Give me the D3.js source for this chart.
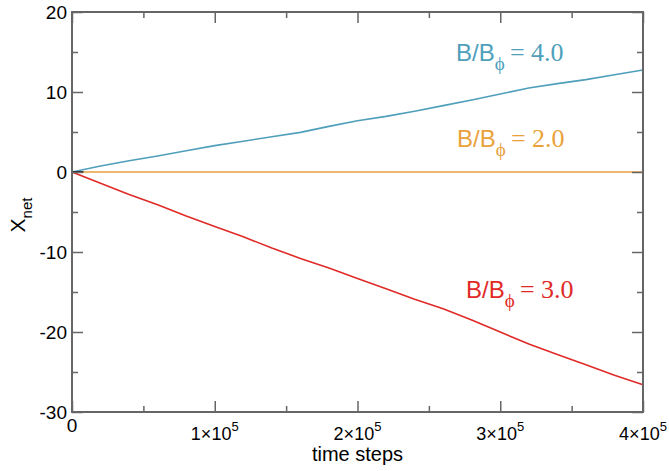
<!DOCTYPE html>
<html>
<head>
<meta charset="utf-8">
<script src="https://cdn.jsdelivr.net/npm/d3@7/dist/d3.min.js"></script>
<style>
  html, body { margin: 0; padding: 0; background: #fff; }
  svg { display: block; }
</style>
</head>
<body>
<script>
// Time axis (time steps), sampled every 2×10^4 steps
const steps = [0, 20000, 40000, 60000, 80000, 100000, 120000, 140000, 160000, 180000, 200000,
               220000, 240000, 260000, 280000, 300000, 320000, 340000, 360000, 380000, 400000];

// Net displacement X_net for each field ratio B/B_phi
const xnet40 = [0, 0.75, 1.4, 2.0, 2.65, 3.3, 3.85, 4.4, 4.95, 5.7, 6.4,
                6.95, 7.6, 8.3, 9.0, 9.75, 10.5, 11.05, 11.55, 12.15, 12.75];
const xnet20 = [0, 0, 0, 0, 0, 0, 0, 0, 0, 0, 0,
                0, 0, 0, 0, 0, 0, 0, 0, 0, 0];
const xnet30 = [0, -1.4, -2.8, -4.1, -5.5, -6.8, -8.1, -9.5, -10.8, -12.0, -13.3,
                -14.6, -15.9, -17.1, -18.5, -20.0, -21.5, -22.8, -24.1, -25.4, -26.6];
// short initial segment of the reference run
const stepsShort = [0, 8000];
const xnetShort = [0, 0];

const seriesLabels = ["4.0", "2.0", "3.0"];
const yTicks = [-30, -20, -10, 0, 10, 20];
const xTicks = [0, 100000, 200000, 300000, 400000];
const xTickExp = ["", "1", "2", "3", "4"];

const W = 669, H = 471;
const m = { left: 72, right: 26, top: 12, bottom: 59 };
const iw = W - m.left - m.right, ih = H - m.top - m.bottom;

const svg = d3.select("body").append("svg").attr("width", W).attr("height", H);
const g = svg.append("g").attr("transform", `translate(${m.left},${m.top})`);

const x = d3.scaleLinear().domain([0, 400000]).range([0, iw]);
const y = d3.scaleLinear().domain([-30, 20]).range([ih, 0]);

const axisColor = "#666";
const sans = "'Liberation Sans', Arial, Helvetica, sans-serif";
const serif = "'Liberation Serif', 'Times New Roman', serif";

// data lines
const line = d3.line().x(d => x(d[0])).y(d => y(d[1]));
const series = [
  { t: steps, v: xnet20, color: "#e9a23b" },
  { t: steps, v: xnet40, color: "#4f9fbb" },
  { t: steps, v: xnet30, color: "#e02a28" },
  { t: stepsShort, v: xnetShort, color: "#111" }
];
series.forEach(s => {
  g.append("path")
    .datum(s.t.map((t, i) => [t, s.v[i]]))
    .attr("fill", "none")
    .attr("stroke", s.color)
    .attr("stroke-width", 1.6)
    .attr("d", line);
});

// frame
g.append("rect").attr("x", 0).attr("y", 0).attr("width", iw).attr("height", ih)
  .attr("fill", "none").attr("stroke", axisColor).attr("stroke-width", 2);

// ticks, inward on all four sides
const yMinor = d3.range(-25, 20, 10);
const xMinor = d3.range(50000, 400000, 100000);
function tickAxes(axisFn, scale, values, len, transform) {
  const a = g.append("g").attr("transform", transform)
    .call(axisFn(scale).tickValues(values).tickSize(len).tickFormat(""));
  a.select(".domain").remove();
  a.selectAll("line").attr("stroke", axisColor).attr("stroke-width", 1.5);
}
tickAxes(d3.axisLeft, y, yTicks, -11, "translate(0,0)");
tickAxes(d3.axisLeft, y, yMinor, -6, "translate(0,0)");
tickAxes(d3.axisRight, y, yTicks, -11, `translate(${iw},0)`);
tickAxes(d3.axisRight, y, yMinor, -6, `translate(${iw},0)`);
tickAxes(d3.axisBottom, x, xTicks, -11, `translate(0,${ih})`);
tickAxes(d3.axisBottom, x, xMinor, -6, `translate(0,${ih})`);
tickAxes(d3.axisTop, x, xTicks, -11, "translate(0,0)");
tickAxes(d3.axisTop, x, xMinor, -6, "translate(0,0)");

// y tick labels
g.selectAll(".ylab").data(yTicks).enter().append("text")
  .attr("x", -5).attr("y", d => y(d)).attr("dy", "0.36em")
  .attr("text-anchor", "end")
  .attr("font-family", sans).attr("font-size", 19).attr("fill", "#000")
  .text(d => d);

// x tick labels (k×10^5)
xTicks.forEach((v, i) => {
  const t = g.append("text")
    .attr("x", x(v)).attr("y", ih + (i === 0 ? 20 : 28))
    .attr("text-anchor", "middle")
    .attr("font-family", sans).attr("font-size", 18).attr("fill", "#000");
  if (i === 0) {
    t.attr("font-size", 19).text("0");
  } else {
    t.append("tspan").text(xTickExp[i] + "×10");
    t.append("tspan").attr("dy", -9).attr("font-size", 13).text("5");
  }
});

// axis titles
g.append("text")
  .attr("x", iw / 2).attr("y", ih + 49)
  .attr("text-anchor", "middle")
  .attr("font-family", sans).attr("font-size", 20).attr("fill", "#000")
  .text("time steps");

const yl = svg.append("text")
  .attr("transform", `translate(25,${m.top + ih / 2 + 3}) rotate(-90)`)
  .attr("text-anchor", "middle")
  .attr("font-family", sans).attr("font-size", 21).attr("fill", "#000");
yl.append("tspan").text("X");
yl.append("tspan").attr("dy", 7).attr("font-size", 15).text("net");

// series labels
function ratioLabel(px, py, val, color) {
  const t = svg.append("text").attr("x", px).attr("y", py)
    .attr("fill", color).attr("font-size", 24);
  t.append("tspan").attr("font-family", sans).text("B/B");
  t.append("tspan").attr("font-family", serif).attr("font-size", 19).attr("dy", 9).text("\u03d5");
  t.append("tspan").attr("font-family", serif).attr("font-size", 26).attr("dy", -9).text("\u2009= " + val);
}
ratioLabel(456, 61, seriesLabels[0], "#4f9fbb");
ratioLabel(457, 147, seriesLabels[1], "#e9a23b");
ratioLabel(466, 298, seriesLabels[2], "#e02a28");
</script>
</body>
</html>
